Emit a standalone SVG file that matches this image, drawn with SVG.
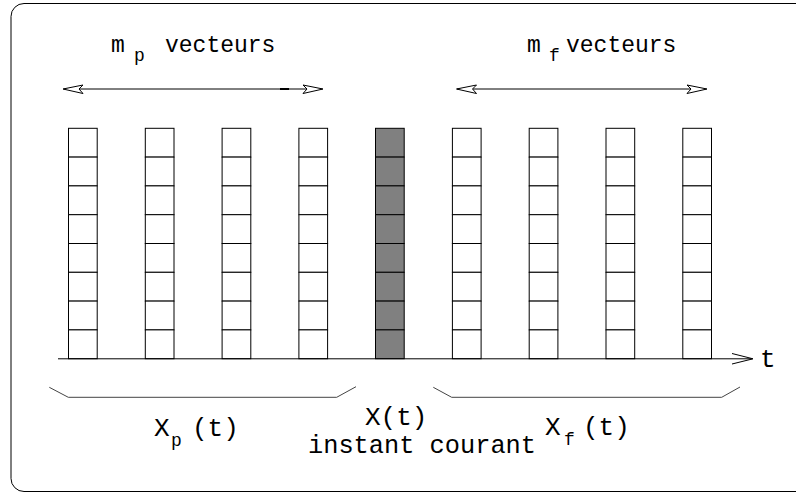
<svg xmlns="http://www.w3.org/2000/svg" width="796" height="493" viewBox="0 0 796 493">
  <defs>
    <style>
      .frame { fill: none; stroke: #000; stroke-width: 1; }
      .cell { fill: #fff; stroke: #000; stroke-width: 1; }
      .cur .cell { fill: #808080; }
      .ln { fill: none; stroke: #000; stroke-width: 1; }
      .br { fill: none; stroke: #444; stroke-width: 1; }
      .ah { fill: #fff; stroke: #000; stroke-width: 1; stroke-linejoin: miter; }
      text { font-family: "Liberation Mono", "Courier New", monospace; fill: #000; }
      .big { font-size: 26px; }
      .lbl { font-size: 23px; }
      .sub { font-size: 18px; }
    </style>
    <g id="col">
      <rect class="cell" x="0" y="0" width="28.7" height="28.8"/>
      <rect class="cell" x="0" y="28.8" width="28.7" height="28.8"/>
      <rect class="cell" x="0" y="57.6" width="28.7" height="28.8"/>
      <rect class="cell" x="0" y="86.4" width="28.7" height="28.8"/>
      <rect class="cell" x="0" y="115.2" width="28.7" height="28.8"/>
      <rect class="cell" x="0" y="144" width="28.7" height="28.8"/>
      <rect class="cell" x="0" y="172.8" width="28.7" height="28.8"/>
      <rect class="cell" x="0" y="201.6" width="28.7" height="28.8"/>
    </g>
  </defs>

  <rect width="796" height="493" fill="#fff"/>
  <rect class="frame" x="11" y="3.5" width="800" height="488" rx="13" ry="13"/>

  <g id="vectors">
    <g id="vp1" transform="translate(68.5,128.3)"><use href="#col"/></g>
    <g id="vp2" transform="translate(145.3,128.3)"><use href="#col"/></g>
    <g id="vp3" transform="translate(222.1,128.3)"><use href="#col"/></g>
    <g id="vp4" transform="translate(298.9,128.3)"><use href="#col"/></g>
    <g id="vcur" class="cur" transform="translate(375.5,128.3)">
      <rect class="cell" x="0" y="0" width="28.7" height="28.8"/>
      <rect class="cell" x="0" y="28.8" width="28.7" height="28.8"/>
      <rect class="cell" x="0" y="57.6" width="28.7" height="28.8"/>
      <rect class="cell" x="0" y="86.4" width="28.7" height="28.8"/>
      <rect class="cell" x="0" y="115.2" width="28.7" height="28.8"/>
      <rect class="cell" x="0" y="144" width="28.7" height="28.8"/>
      <rect class="cell" x="0" y="172.8" width="28.7" height="28.8"/>
      <rect class="cell" x="0" y="201.6" width="28.7" height="28.8"/>
    </g>
    <g id="vf1" transform="translate(452.4,128.3)"><use href="#col"/></g>
    <g id="vf2" transform="translate(529.2,128.3)"><use href="#col"/></g>
    <g id="vf3" transform="translate(606,128.3)"><use href="#col"/></g>
    <g id="vf4" transform="translate(682.8,128.3)"><use href="#col"/></g>
  </g>

  <g id="connectors">
    <!-- time axis -->
    <line class="ln" x1="58" y1="358.8" x2="752" y2="358.8"/>
    <polyline class="ln" points="732,353.5 753,358.8 732,364" stroke-width="1.3"/>
    <!-- m_p arrow -->
    <line class="ln" x1="64" y1="89" x2="322" y2="89"/>
    <line x1="280" y1="89" x2="289" y2="89" stroke="#000" stroke-width="2"/>
    <polygon class="ah" points="63,89 83,85 79,89 83,93.5"/>
    <polygon class="ah" points="323,89 303,85 307,89 303,93.5"/>
    <!-- m_f arrow -->
    <line class="ln" x1="457" y1="89" x2="706" y2="89"/>
    <polygon class="ah" points="456.5,89 476.5,85 472.5,89 476.5,93.5"/>
    <polygon class="ah" points="707,89 687,85 691,89 687,93.5"/>
    <!-- braces -->
    <polyline class="br" points="49.3,387.3 68.3,397.3 336.7,397.3 356,386.7"/>
    <polyline class="br" points="433.3,387.3 451.7,397.3 721.7,397.3 740,387"/>
  </g>

  <g id="labels">
    <text class="lbl" x="111" y="52">m</text>
    <text class="sub" x="134" y="61">p</text>
    <text class="lbl" x="165" y="52">vecteurs</text>

    <text class="lbl" x="527" y="52">m</text>
    <text class="sub" x="549" y="61">f</text>
    <text class="lbl" x="566" y="52">vecteurs</text>

    <text class="big" x="760" y="367">t</text>

    <text class="big" x="154" y="436">X</text>
    <text class="sub" x="171" y="446">p</text>
    <text class="big" x="192" y="436">(t)</text>

    <text class="big" x="365" y="425">X(t)</text>
    <text class="big" x="308" y="452.5" textLength="228" lengthAdjust="spacingAndGlyphs">instant courant</text>

    <text class="big" x="545" y="435">X</text>
    <text class="sub" x="564" y="445">f</text>
    <text class="big" x="583" y="435">(t)</text>
  </g>
</svg>
